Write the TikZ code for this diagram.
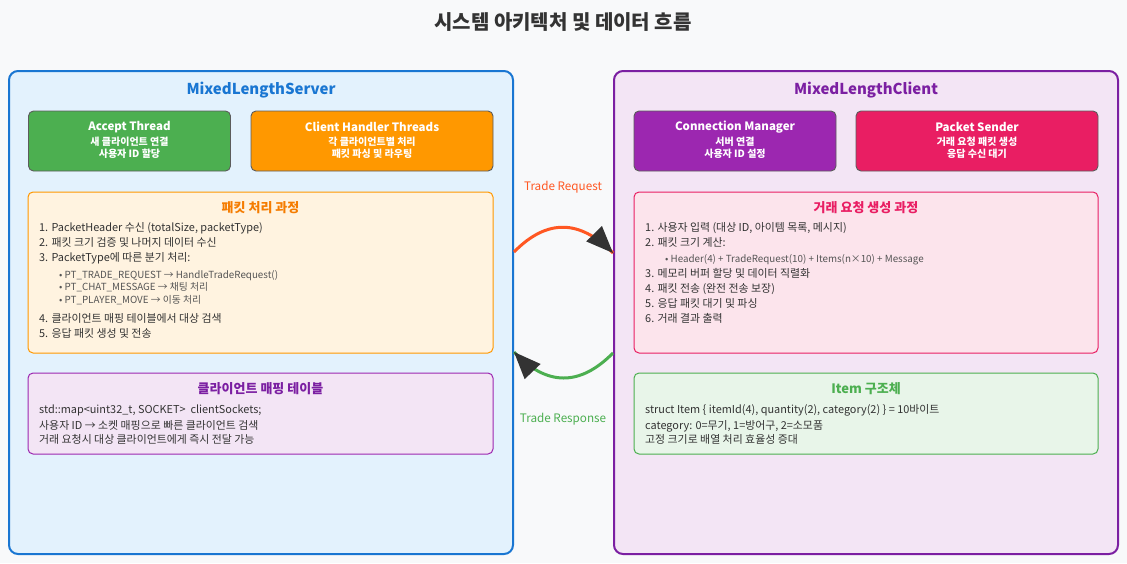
\documentclass[tikz,border=0pt]{standalone}
\usepackage{fontspec}
\setmainfont{Noto Sans CJK KR}
\usetikzlibrary{calc}
\definecolor{bgc}{HTML}{F8F9FA}
\definecolor{txt}{HTML}{333333}
\definecolor{subtxt}{HTML}{555555}
\definecolor{srvfill}{HTML}{E3F2FD}
\definecolor{srvline}{HTML}{1976D2}
\definecolor{clifill}{HTML}{F3E5F5}
\definecolor{cliline}{HTML}{7B1FA2}
\definecolor{cgreen}{HTML}{4CAF50}
\definecolor{corange}{HTML}{FF9800}
\definecolor{cpurple}{HTML}{9C27B0}
\definecolor{cpink}{HTML}{E91E63}
\definecolor{cred}{HTML}{FF5722}
\definecolor{orfill}{HTML}{FFF3E0}
\definecolor{ortitle}{HTML}{F57C00}
\definecolor{pkfill}{HTML}{FCE4EC}
\definecolor{grfill}{HTML}{E8F5E9}
\definecolor{tipc}{HTML}{333333}
\tikzset{
  bigbox/.style={draw, line width=2pt, rounded corners=9pt, inner sep=0pt},
  compbox/.style={draw=txt!80, line width=0.9pt, rounded corners=5pt, inner sep=0pt},
  infobox/.style={draw, line width=1pt, rounded corners=5pt, inner sep=0pt},
  bigtitle/.style={font=\bfseries\fontsize{15}{18}\selectfont, inner sep=0pt},
  comptitle/.style={font=\bfseries\fontsize{11.5}{14}\selectfont, text=white, inner sep=0pt},
  compsub/.style={font=\bfseries\fontsize{10}{12}\selectfont, text=white, inner sep=0pt},
  infotitle/.style={font=\bfseries\fontsize{13}{15}\selectfont, inner sep=0pt},
  ln/.style={anchor=base west, inner sep=0pt, font=\fontsize{10.9}{12}\selectfont, text=txt},
  bl/.style={anchor=base west, inner sep=0pt, font=\fontsize{9.8}{11}\selectfont, text=subtxt},
  flowlbl/.style={font=\fontsize{11.7}{13}\selectfont, inner sep=0pt},
  flow/.style={line width=3pt},
  tiphead/.style={fill=tipc}
}
\begin{document}
\begin{tikzpicture}[x=1pt,y=-1pt]
\path[fill=bgc, use as bounding box] (0,0) rectangle (1127,563);
\node[font=\bfseries\fontsize{20}{23}\selectfont, text=txt, inner sep=0pt] (title) at (563,22) {시스템 아키텍처 및 데이터 흐름};

% Server
\node[bigbox, draw=srvline, fill=srvfill, minimum width=504pt, minimum height=483pt] (server) at (261,312.5) {};
\node[bigtitle, text=srvline] (servertitle) at (261,90) {MixedLengthServer};
\node[compbox, fill=cgreen, minimum width=202pt, minimum height=60pt] (accept) at (129.5,141) {};
\node[comptitle] (acceptT) at (129.5,127) {Accept Thread};
\node[compsub] (acceptS1) at (129.5,142) {새 클라이언트 연결};
\node[compsub] (acceptS2) at (129.5,154) {사용자 ID 할당};
\node[compbox, fill=corange, minimum width=242pt, minimum height=60pt] (handler) at (372,141) {};
\node[comptitle] (handlerT) at (372,127) {Client Handler Threads};
\node[compsub] (handlerS1) at (372,142) {각 클라이언트별 처리};
\node[compsub] (handlerS2) at (372,154) {패킷 파싱 및 라우팅};

\node[infobox, draw=corange, fill=orfill, minimum width=465pt, minimum height=161pt] (packet) at (260.5,272.5) {};
\node[infotitle, text=ortitle] (packetT) at (260.5,208) {패킷 처리 과정};
\node[ln] (p1) at (39,231.5) {1. PacketHeader 수신 (totalSize, packetType)};
\node[ln] (p2) at (39,246.5) {2. 패킷 크기 검증 및 나머지 데이터 수신};
\node[ln] (p3) at (39,261.5) {3. PacketType에 따른 분기 처리:};
\node[bl] (p3a) at (59,278.5) {• PT\_TRADE\_REQUEST → HandleTradeRequest()};
\node[bl] (p3b) at (59,290.5) {• PT\_CHAT\_MESSAGE → 채팅 처리};
\node[bl] (p3c) at (59,303.5) {• PT\_PLAYER\_MOVE → 이동 처리};
\node[ln] (p4) at (39,322.5) {4. 클라이언트 매핑 테이블에서 대상 검색};
\node[ln] (p5) at (39,337.5) {5. 응답 패킷 생성 및 전송};

\node[infobox, draw=cpurple, fill=clifill, minimum width=465pt, minimum height=81pt] (mapping) at (260.5,413.5) {};
\node[infotitle, text=cliline] (mappingT) at (260.5,389) {클라이언트 매핑 테이블};
\node[ln] (m1) at (39,413.5) {std::map<uint32\_t, SOCKET>\ \ clientSockets;};
\node[ln] (m2) at (39,429.5) {사용자 ID → 소켓 매핑으로 빠른 클라이언트 검색};
\node[ln] (m3) at (39,443.5) {거래 요청시 대상 클라이언트에게 즉시 전달 가능};

% Client
\node[bigbox, draw=cliline, fill=clifill, minimum width=504pt, minimum height=483pt] (client) at (866,312.5) {};
\node[bigtitle, text=cliline] (clienttitle) at (866,90) {MixedLengthClient};
\node[compbox, fill=cpurple, minimum width=202pt, minimum height=60pt] (conn) at (735,141) {};
\node[comptitle] (connT) at (735,127) {Connection Manager};
\node[compsub] (connS1) at (735,142) {서버 연결};
\node[compsub] (connS2) at (735,154) {사용자 ID 설정};
\node[compbox, fill=cpink, minimum width=242pt, minimum height=60pt] (sender) at (977,141) {};
\node[comptitle] (senderT) at (977,127) {Packet Sender};
\node[compsub] (senderS1) at (977,142) {거래 요청 패킷 생성};
\node[compsub] (senderS2) at (977,154) {응답 수신 대기};

\node[infobox, draw=cpink, fill=pkfill, minimum width=464pt, minimum height=161pt] (trade) at (866,272.5) {};
\node[infotitle, text=cpink] (tradeT) at (866,208) {거래 요청 생성 과정};
\node[ln] (t1) at (645,231.5) {1. 사용자 입력 (대상 ID, 아이템 목록, 메시지)};
\node[ln] (t2) at (645,246.5) {2. 패킷 크기 계산:};
\node[bl] (t2a) at (665,262.5) {• Header(4) + TradeRequest(10) + Items(n×10) + Message};
\node[ln] (t3) at (645,277.5) {3. 메모리 버퍼 할당 및 데이터 직렬화};
\node[ln] (t4) at (645,292.5) {4. 패킷 전송 (완전 전송 보장)};
\node[ln] (t5) at (645,307.5) {5. 응답 패킷 대기 및 파싱};
\node[ln] (t6) at (645,322.5) {6. 거래 결과 출력};

\node[infobox, draw=cgreen, fill=grfill, minimum width=464pt, minimum height=81pt] (item) at (866,413.5) {};
\node[infotitle, text=cgreen] (itemT) at (866,389) {Item 구조체};
\node[ln] (i1) at (645,413.5) {struct Item \{ itemId(4), quantity(2), category(2) \} = 10바이트};
\node[ln] (i2) at (645,429.5) {category: 0=무기, 1=방어구, 2=소모품};
\node[ln] (i3) at (645,443.5) {고정 크기로 배열 처리 효율성 증대};

% Flows (quadratic curves written as cubic ones)
\coordinate (rqA) at ([yshift=60.5pt]server.east);
\coordinate (rqB) at ([yshift=59.5pt]client.west);
\coordinate (rqC) at (563,202);
\draw[flow, cred] (rqA) .. controls ($(rqA)!0.6667!(rqC)$) and ($(rqB)!0.6667!(rqC)$) .. (rqB);
\coordinate (rqM) at ($(rqB)!27pt!(rqC)$);
\fill[tiphead] (rqB) -- ($(rqM)!11pt!90:(rqB)$) -- ($(rqM)!11pt!-90:(rqB)$) -- cycle;
\node[flowlbl, text=cred] (reqlbl) at (563,187) {Trade Request};

\coordinate (rsA) at ([yshift=-40.5pt]client.west);
\coordinate (rsB) at ([yshift=-39.5pt]server.east);
\coordinate (rsC) at (563,403.5);
\draw[flow, cgreen] (rsA) .. controls ($(rsA)!0.6667!(rsC)$) and ($(rsB)!0.6667!(rsC)$) .. (rsB);
\coordinate (rsM) at ($(rsB)!27pt!(rsC)$);
\fill[tiphead] (rsB) -- ($(rsM)!11pt!90:(rsB)$) -- ($(rsM)!11pt!-90:(rsB)$) -- cycle;
\node[flowlbl, text=cgreen] (reslbl) at (563,419) {Trade Response};
\end{tikzpicture}
\end{document}
